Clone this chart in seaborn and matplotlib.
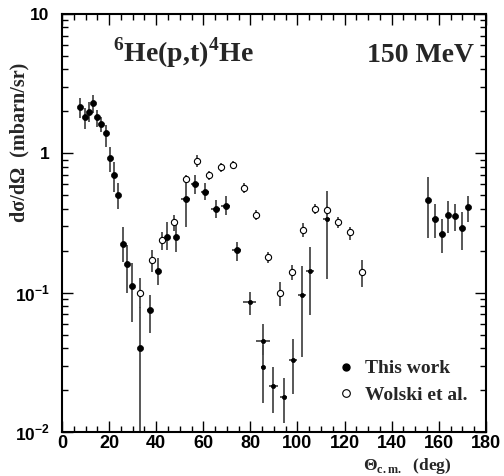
import matplotlib
matplotlib.use("Agg")
import matplotlib.pyplot as plt
import matplotlib.ticker as mticker
from matplotlib.lines import Line2D
import numpy as np
import pandas as pd
import seaborn as sns

# ---- data: this work (filled) ----
this_theta = [7.8, 9.6, 11.3, 13.2, 14.9, 16.7, 18.8, 20.2, 21.9, 23.8,
              25.8, 27.4, 29.8, 33.2, 37.2, 40.7, 44.7, 48.5, 52.5, 56.5,
              60.8, 65.2, 69.6, 74.3, 79.7, 85.2, 85.4, 89.8, 94.1, 98.0,
              101.9, 105.4, 112.4, 155.5, 158.3, 161.2, 164.0, 166.9, 169.8, 172.6]
this_xs = [2.14, 1.81, 1.99, 2.31, 1.81, 1.62, 1.39, 0.92, 0.695, 0.502,
           0.224, 0.160, 0.111, 0.0398, 0.0746, 0.143, 0.253, 0.253, 0.470, 0.599,
           0.527, 0.398, 0.421, 0.202, 0.0851, 0.0447, 0.0292, 0.0214, 0.0178, 0.0327,
           0.0957, 0.143, 0.336, 0.464, 0.340, 0.265, 0.360, 0.356, 0.291, 0.409]
this_lo = [1.78, 1.49, 1.69, 1.95, 1.55, 1.43, 1.11, 0.738, 0.53, 0.396,
           0.166, 0.0993, 0.0615, 0.005, 0.0513, 0.1135, 0.202, 0.195, 0.296, 0.51,
           0.462, 0.343, 0.36, 0.169, 0.069, 0.0356, 0.0162, 0.0137, 0.0116, 0.0187,
           0.0347, 0.069, 0.125, 0.248, 0.247, 0.192, 0.268, 0.278, 0.202, 0.323]
this_hi = [2.48, 2.11, 2.34, 2.62, 2.05, 1.83, 1.60, 1.11, 0.871, 0.61,
           0.297, 0.22, 0.163, 0.0789, 0.0962, 0.177, 0.321, 0.32, 0.68, 0.70,
           0.612, 0.462, 0.493, 0.232, 0.101, 0.0596, 0.042, 0.0292, 0.0244, 0.0465,
           0.155, 0.214, 0.54, 0.68, 0.432, 0.337, 0.455, 0.432, 0.381, 0.493]
this_dtheta = [0.8, 0.8, 0.8, 0.8, 0.8, 0.8, 0.8, 0.8, 0.8, 0.8,
               0.8, 0.8, 0.8, 1.0, 1.0, 1.0, 1.0, 1.0, 1.8, 1.8,
               1.8, 1.8, 1.9, 1.9, 2.7, 3.0, 0.8, 1.8, 1.6, 1.6,
               1.6, 1.6, 1.6, 1.0, 1.0, 1.0, 1.0, 1.0, 1.0, 1.0]

# ---- data: Wolski et al. (open) ----
w_theta = [33.1, 38.1, 42.4, 47.4, 52.5, 57.4, 62.5, 67.5, 72.6, 77.5,
           82.5, 87.4, 92.4, 97.5, 102.4, 107.4, 112.4, 117.3, 122.4, 127.5]
w_xs = [0.100, 0.171, 0.240, 0.321, 0.657, 0.88, 0.695, 0.793, 0.828, 0.561,
        0.359, 0.181, 0.100, 0.141, 0.280, 0.400, 0.390, 0.321, 0.271, 0.141]
w_lo = [0.078, 0.141, 0.202, 0.278, 0.615, 0.80, 0.64, 0.74, 0.78, 0.52,
        0.33, 0.163, 0.080, 0.123, 0.25, 0.37, 0.36, 0.29, 0.24, 0.11]
w_hi = [0.127, 0.202, 0.273, 0.36, 0.70, 0.97, 0.75, 0.85, 0.88, 0.61,
        0.39, 0.197, 0.1197, 0.158, 0.314, 0.43, 0.42, 0.35, 0.297, 0.172]

x_ticks = [0, 20, 40, 60, 80, 100, 120, 140, 160, 180]
y_ticks = [0.01, 0.1, 1, 10]
y_ticklabels = [r"$\mathsf{10}^{\mathsf{-2}}$", r"$\mathsf{10}^{\mathsf{-1}}$", "1", "10"]

df_this = pd.DataFrame({"theta": this_theta, "xs": this_xs, "lo": this_lo,
                        "hi": this_hi, "dtheta": this_dtheta})
df_w = pd.DataFrame({"theta": w_theta, "xs": w_xs, "lo": w_lo, "hi": w_hi})

sns.set_theme(style="ticks")
plt.rcParams["font.family"] = ["Liberation Sans", "DejaVu Sans"]
plt.rcParams["font.weight"] = "bold"
plt.rcParams["mathtext.fontset"] = "custom"
plt.rcParams["mathtext.rm"] = "Liberation Serif:bold"
plt.rcParams["mathtext.bf"] = "Liberation Serif:bold"
plt.rcParams["mathtext.sf"] = "Liberation Sans:bold"

fig = plt.figure(figsize=(5.04, 4.76), dpi=100)
ax = fig.add_axes([0.123, 0.0924, 0.841, 0.8782])

bar_col = "#4a4a4a"
# error bars
ax.errorbar(df_this["theta"], df_this["xs"],
            yerr=[df_this["xs"] - df_this["lo"], df_this["hi"] - df_this["xs"]],
            xerr=df_this["dtheta"], fmt="none", ecolor=bar_col, elinewidth=1.3,
            capsize=0, zorder=2)
ax.errorbar(df_w["theta"], df_w["xs"],
            yerr=[df_w["xs"] - df_w["lo"], df_w["hi"] - df_w["xs"]],
            fmt="none", ecolor=bar_col, elinewidth=1.3, capsize=0, zorder=2)

# markers
small = (df_this["theta"] > 76) & (df_this["theta"] < 115)
sns.scatterplot(data=df_this[~small], x="theta", y="xs", color="black", s=19,
                edgecolor="black", linewidth=0.5, ax=ax, zorder=4, legend=False)
sns.scatterplot(data=df_this[small], x="theta", y="xs", color="black", s=9,
                edgecolor="black", linewidth=0.5, ax=ax, zorder=4, legend=False)
sns.scatterplot(data=df_w, x="theta", y="xs", color="white", s=20,
                edgecolor="black", linewidth=0.8, ax=ax, zorder=3, legend=False)

ax.set_yscale("log")
ax.set_xlim(0, 180)
ax.set_ylim(0.01, 10)

ax.set_xticks(x_ticks)
ax.set_xticklabels([str(t) for t in x_ticks])
ax.xaxis.set_minor_locator(mticker.MultipleLocator(5))
ax.set_yticks(y_ticks)
ax.set_yticklabels(y_ticklabels)
ax.yaxis.set_minor_locator(mticker.LogLocator(base=10, subs=np.arange(2, 10)))
ax.yaxis.set_minor_formatter(mticker.NullFormatter())

ax.tick_params(axis="both", which="both", direction="in", top=True, right=True,
               color="black", width=1.0)
ax.tick_params(axis="both", which="major", length=8)
ax.tick_params(axis="both", which="minor", length=4)
ax.tick_params(axis="x", which="major", labelsize=13, pad=2.5)
ax.tick_params(axis="y", which="major", labelsize=12.5, pad=9)
for lab in ax.get_xticklabels() + ax.get_yticklabels():
    lab.set_fontweight("bold")
    lab.set_color("black")

for sp in ax.spines.values():
    sp.set_linewidth(1.5)
    sp.set_color("black")

ax.set_xlabel("")
ax.set_ylabel("")

serif = ["Liberation Serif", "DejaVu Serif"]
fig.text(0.038, 0.70, "d\u03c3/d\u03a9  (mbarn/sr)", rotation=90, ha="center",
         va="center", family=serif, fontweight="bold", fontsize=14.5)
fig.text(0.895, 0.012, r"$\Theta_{\mathrm{c.m.}}$  (deg)", ha="right",
         va="baseline", family=serif, fontweight="bold", fontsize=12.5)

ax.text(0.12, 0.885, r"$^{6}$He(p,t)$^{4}$He", transform=ax.transAxes,
        family=serif, fontweight="bold", fontsize=20, ha="left", va="baseline")
ax.text(0.72, 0.885, "150 MeV", transform=ax.transAxes,
        family=serif, fontweight="bold", fontsize=20, ha="left", va="baseline")

handles = [
    Line2D([], [], marker="o", linestyle="none", markerfacecolor="black",
           markeredgecolor="black", markersize=5),
    Line2D([], [], marker="o", linestyle="none", markerfacecolor="white",
           markeredgecolor="black", markeredgewidth=0.8, markersize=5.5),
]
ax.legend(handles, ["This work", "Wolski et al."], loc="center left",
          bbox_to_anchor=(0.605, 0.12), frameon=False, handlelength=1.0,
          handletextpad=0.5, labelspacing=0.45,
          prop={"family": serif, "weight": "bold", "size": 14})

fig.savefig("out.png", dpi=100, facecolor="white")
